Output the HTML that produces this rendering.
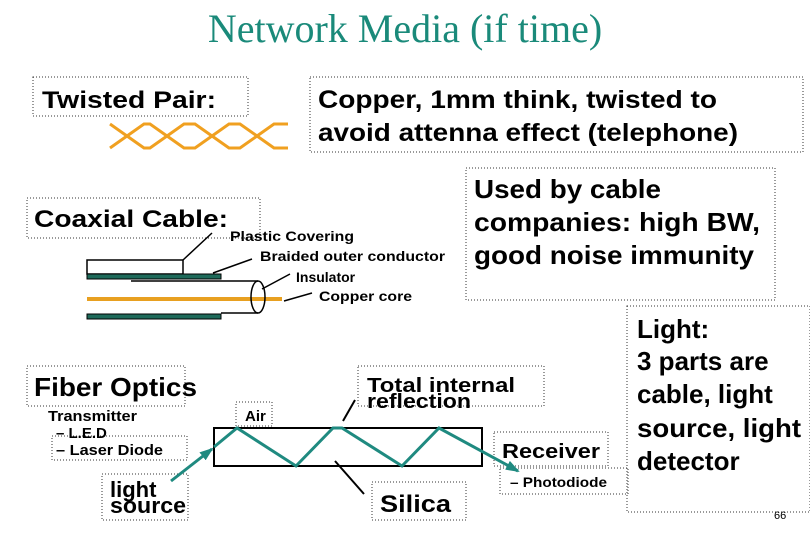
<html><body style="margin:0;background:#fff">
<svg width="810" height="540" xmlns="http://www.w3.org/2000/svg" font-family="Liberation Sans, sans-serif" font-weight="bold">
<defs><marker id="a" markerUnits="userSpaceOnUse" markerWidth="14" markerHeight="10" refX="12" refY="5" orient="auto"><path d="M0,0L14,5L0,10z" fill="#1f8a80"/></marker></defs>
<text x="405" y="42" text-anchor="middle" font-family="Liberation Serif, serif" font-weight="normal" font-size="40" fill="#1a8a7a">Network Media (if time)</text>
<g fill="none" stroke="#333" stroke-dasharray="1,2" stroke-width="1">
<rect x="33" y="77" width="215" height="39"/><rect x="310" y="77" width="493" height="75"/>
<rect x="27" y="198" width="233" height="40"/><rect x="466" y="168" width="309" height="132"/>
<rect x="627" y="306" width="183" height="206"/><rect x="27" y="366" width="158" height="40"/>
<rect x="52" y="436" width="135" height="24"/><rect x="236" y="402" width="36" height="24"/>
<rect x="358" y="366" width="186" height="40"/><rect x="494" y="432" width="114" height="34"/>
<rect x="500" y="468" width="128" height="26"/><rect x="372" y="482" width="94" height="38"/>
<rect x="102" y="474" width="86" height="46"/>
</g>
<text x="42" y="108" font-size="24" textLength="174" lengthAdjust="spacingAndGlyphs">Twisted Pair:</text>
<g font-size="25"><text x="318" y="108" textLength="399" lengthAdjust="spacingAndGlyphs">Copper, 1mm think, twisted to</text><text x="318" y="141" textLength="420" lengthAdjust="spacingAndGlyphs">avoid attenna effect (telephone)</text></g>
<g stroke="#f0a020" stroke-width="3" fill="none">
<path d="M110,148 L127,136 L144,124 L150,124 L167,136 L184,148 L195,148 L212,136 L229,124 L240,124 L257,136 L274,148 L288,148"/>
<path d="M110,124 L127,136 L144,148 L150,148 L167,136 L184,124 L195,124 L212,136 L229,148 L240,148 L257,136 L274,124 L288,124"/>
</g>
<text x="34" y="227" font-size="24" textLength="194" lengthAdjust="spacingAndGlyphs">Coaxial Cable:</text>
<rect x="87" y="260" width="96" height="14" fill="#fff" stroke="#000" stroke-width="1.5"/>
<rect x="87" y="274" width="134" height="5" fill="#1e6a5a" stroke="#000" stroke-width="1"/>
<rect x="87" y="314" width="134" height="5" fill="#1e6a5a" stroke="#000" stroke-width="1"/>
<path d="M131,281H258M221,313H258" stroke="#000" stroke-width="1.5"/>
<rect x="87" y="297" width="195" height="4" fill="#e8a020"/>
<ellipse cx="258" cy="297" rx="7" ry="16" fill="none" stroke="#000" stroke-width="1.5"/>
<path d="M183,260L212,233M213,273L252,259M262,289L290,274M284,301L312,293" stroke="#000" stroke-width="1.5"/>
<g font-size="14"><text x="230" y="241" textLength="124" lengthAdjust="spacingAndGlyphs">Plastic Covering</text><text x="260" y="261" textLength="185" lengthAdjust="spacingAndGlyphs">Braided outer conductor</text><text x="296" y="282">Insulator</text><text x="319" y="301" textLength="93" lengthAdjust="spacingAndGlyphs">Copper core</text></g>
<g font-size="26"><text x="474" y="198" textLength="187" lengthAdjust="spacingAndGlyphs">Used by cable</text><text x="474" y="231" textLength="286" lengthAdjust="spacingAndGlyphs">companies: high BW,</text><text x="474" y="264" textLength="280" lengthAdjust="spacingAndGlyphs">good noise immunity</text>
<text x="637" y="338">Light:</text><text x="637" y="370">3 parts are</text><text x="637" y="403">cable, light</text><text x="637" y="437" textLength="164" lengthAdjust="spacingAndGlyphs">source, light</text><text x="637" y="470">detector</text>
<text x="34" y="396" textLength="163" lengthAdjust="spacingAndGlyphs">Fiber Optics</text></g>
<g font-size="15"><text x="48" y="421" textLength="89" lengthAdjust="spacingAndGlyphs">Transmitter</text><text x="56" y="438">– L.E.D</text><text x="56" y="455" textLength="107" lengthAdjust="spacingAndGlyphs">– Laser Diode</text><text x="245" y="421">Air</text></g>
<g font-size="22"><text x="110" y="497">light</text><text x="110" y="513" textLength="76" lengthAdjust="spacingAndGlyphs">source</text></g>
<g font-size="20"><text x="367" y="392" textLength="148" lengthAdjust="spacingAndGlyphs">Total internal</text><text x="367" y="408" textLength="104" lengthAdjust="spacingAndGlyphs">reflection</text><text x="502" y="458" textLength="98" lengthAdjust="spacingAndGlyphs">Receiver</text></g>
<text x="380" y="512" font-size="24" textLength="71" lengthAdjust="spacingAndGlyphs">Silica</text>
<text x="510" y="487" font-size="14" textLength="97" lengthAdjust="spacingAndGlyphs">– Photodiode</text>
<text x="774" y="519" font-size="11" font-weight="normal">66</text>
<rect x="214" y="428" width="268" height="38" fill="none" stroke="#000" stroke-width="2"/>
<path d="M343,421L355,400M335,461L364,494" stroke="#000" stroke-width="2"/>
<path d="M171,481L212,449" stroke="#1f8a80" stroke-width="3" marker-end="url(#a)"/>
<path d="M214,447L237,428L296,466L333,428L342,428L402,466L439,428L518,471" stroke="#1f8a80" stroke-width="3" fill="none" marker-end="url(#a)"/>
</svg>
</body></html>
